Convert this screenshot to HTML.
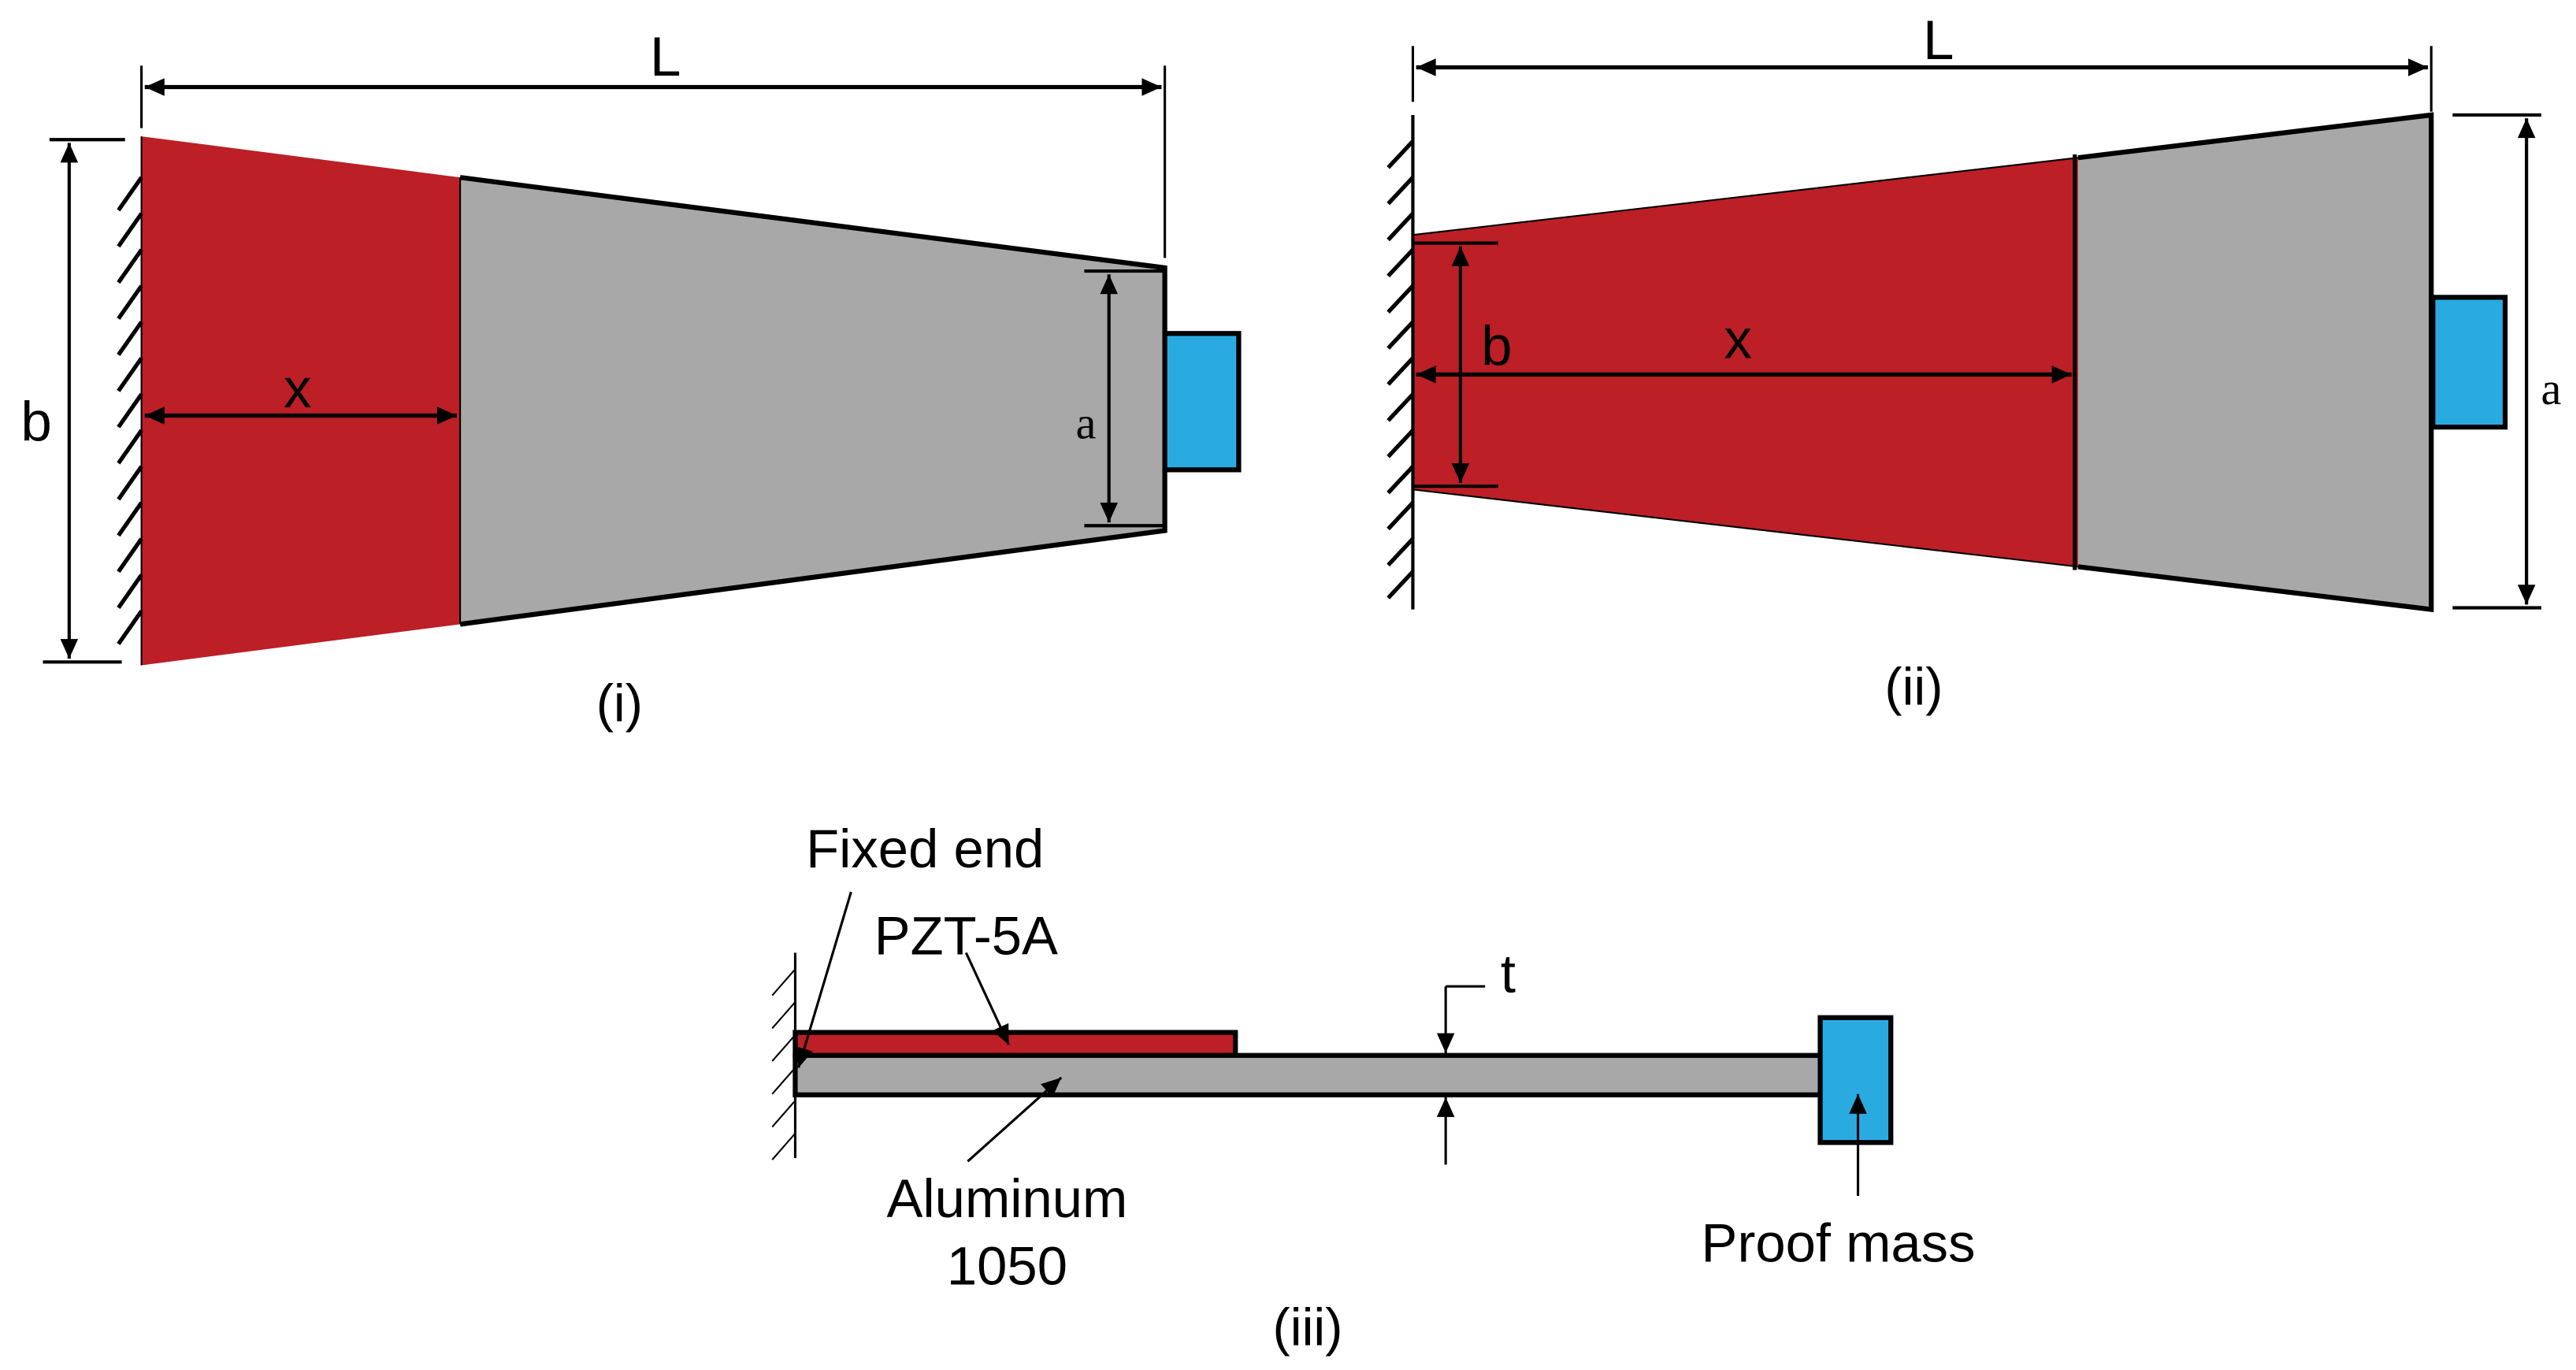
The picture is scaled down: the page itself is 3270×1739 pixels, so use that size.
<!DOCTYPE html>
<html><head><meta charset="utf-8"><style>html,body{margin:0;padding:0;background:#fff}svg{display:block}</style></head>
<body>
<svg width="3270" height="1739" viewBox="0 0 1568 834" xmlns="http://www.w3.org/2000/svg" font-family="Liberation Sans, Arial, sans-serif">
<defs>
<marker id="ar" viewBox="0 0 10 10" refX="10" refY="5" markerWidth="15" markerHeight="12" markerUnits="userSpaceOnUse" orient="auto-start-reverse"><path d="M0,0.5 L10,5 L0,9.5 z" fill="#000"/></marker>
</defs>
<rect width="1568" height="834" fill="#fff"/>

<!-- Panel (i) -->
<polygon points="86,83 280,108 280,380 86,405" fill="#bc1f26"/>
<polygon points="280,108 709,163 709,323 280,380" fill="#a8a8a8"/>
<polyline points="280,108 709,163 709,323 280,380" fill="none" stroke="#000" stroke-width="3"/>
<line x1="280" y1="108" x2="280" y2="380" stroke="#000" stroke-width="1"/>
<rect x="709" y="203" width="45" height="83" fill="#29abe2" stroke="#000" stroke-width="3"/>
<line x1="86" y1="40" x2="86" y2="78" stroke="#000" stroke-width="1.5"/>
<line x1="709" y1="40" x2="709" y2="157" stroke="#000" stroke-width="1.5"/>
<line x1="88" y1="53" x2="707" y2="53" stroke="#000" stroke-width="2.5" marker-start="url(#ar)" marker-end="url(#ar)"/>
<text x="405" y="46" font-size="34" text-anchor="middle">L</text>
<line x1="660" y1="165" x2="709" y2="165" stroke="#000" stroke-width="2"/>
<line x1="660" y1="320" x2="709" y2="320" stroke="#000" stroke-width="2"/>
<line x1="675" y1="167" x2="675" y2="318" stroke="#000" stroke-width="2" marker-start="url(#ar)" marker-end="url(#ar)"/>
<text x="661" y="267" font-size="28" text-anchor="middle" font-family="Liberation Serif, serif">a</text>
<line x1="30" y1="85" x2="76" y2="85" stroke="#000" stroke-width="2"/>
<line x1="26" y1="403" x2="74" y2="403" stroke="#000" stroke-width="2"/>
<line x1="42" y1="87" x2="42" y2="401" stroke="#000" stroke-width="2" marker-start="url(#ar)" marker-end="url(#ar)"/>
<text x="22" y="268" font-size="34" text-anchor="middle">b</text>
<line x1="88" y1="253" x2="278" y2="253" stroke="#000" stroke-width="2.5" marker-start="url(#ar)" marker-end="url(#ar)"/>
<text x="181" y="248" font-size="34" text-anchor="middle">x</text>
<g stroke="#000" stroke-width="2.5">
<line x1="86" y1="83" x2="86" y2="405" stroke-width="1"/>
<line x1="86" y1="108" x2="72" y2="128"/><line x1="86" y1="130" x2="72" y2="150"/><line x1="86" y1="152" x2="72" y2="172"/><line x1="86" y1="174" x2="72" y2="194"/><line x1="86" y1="196" x2="72" y2="216"/><line x1="86" y1="218" x2="72" y2="238"/><line x1="86" y1="240" x2="72" y2="260"/><line x1="86" y1="262" x2="72" y2="282"/><line x1="86" y1="284" x2="72" y2="304"/><line x1="86" y1="306" x2="72" y2="326"/><line x1="86" y1="328" x2="72" y2="348"/><line x1="86" y1="350" x2="72" y2="370"/><line x1="86" y1="372" x2="72" y2="392"/>
</g>
<text x="377" y="439" font-size="32" text-anchor="middle">(i)</text>

<!-- Panel (ii) -->
<polygon points="860,143 1265,96 1265,345 860,298" fill="#bc1f26"/>
<polygon points="1265,96 1480,70 1480,371 1265,345" fill="#a8a8a8"/>
<polyline points="1265,96 1480,70 1480,371 1265,345" fill="none" stroke="#000" stroke-width="3"/>
<line x1="1263" y1="94" x2="1263" y2="347" stroke="#000" stroke-width="2.5"/>
<line x1="860" y1="143" x2="1265" y2="96" stroke="#000" stroke-width="1"/>
<line x1="860" y1="298" x2="1265" y2="345" stroke="#000" stroke-width="1"/>
<rect x="1481" y="181" width="44" height="79" fill="#29abe2" stroke="#000" stroke-width="3"/>
<line x1="860" y1="28" x2="860" y2="62" stroke="#000" stroke-width="1.5"/>
<line x1="1480" y1="28" x2="1480" y2="68" stroke="#000" stroke-width="1.5"/>
<line x1="862" y1="41" x2="1478" y2="41" stroke="#000" stroke-width="2.5" marker-start="url(#ar)" marker-end="url(#ar)"/>
<text x="1180" y="36" font-size="34" text-anchor="middle">L</text>
<line x1="1493" y1="70" x2="1547" y2="70" stroke="#000" stroke-width="2"/>
<line x1="1493" y1="370" x2="1547" y2="370" stroke="#000" stroke-width="2"/>
<line x1="1538" y1="72" x2="1538" y2="368" stroke="#000" stroke-width="2" marker-start="url(#ar)" marker-end="url(#ar)"/>
<text x="1553" y="246" font-size="28" text-anchor="middle" font-family="Liberation Serif, serif">a</text>
<line x1="860" y1="148" x2="912" y2="148" stroke="#000" stroke-width="2"/>
<line x1="860" y1="296" x2="912" y2="296" stroke="#000" stroke-width="2"/>
<line x1="889" y1="150" x2="889" y2="294" stroke="#000" stroke-width="2" marker-start="url(#ar)" marker-end="url(#ar)"/>
<text x="911" y="222" font-size="34" text-anchor="middle">b</text>
<line x1="862" y1="228" x2="1261" y2="228" stroke="#000" stroke-width="2.5" marker-start="url(#ar)" marker-end="url(#ar)"/>
<text x="1058" y="218" font-size="34" text-anchor="middle">x</text>
<g stroke="#000" stroke-width="2.5">
<line x1="860" y1="70" x2="860" y2="371" stroke-width="2"/>
<line x1="860" y1="86" x2="845" y2="102"/><line x1="860" y1="108" x2="845" y2="124"/><line x1="860" y1="130" x2="845" y2="146"/><line x1="860" y1="152" x2="845" y2="168"/><line x1="860" y1="174" x2="845" y2="190"/><line x1="860" y1="196" x2="845" y2="212"/><line x1="860" y1="218" x2="845" y2="234"/><line x1="860" y1="240" x2="845" y2="256"/><line x1="860" y1="262" x2="845" y2="278"/><line x1="860" y1="284" x2="845" y2="300"/><line x1="860" y1="306" x2="845" y2="322"/><line x1="860" y1="328" x2="845" y2="344"/><line x1="860" y1="348" x2="845" y2="364"/>
</g>
<text x="1165" y="429" font-size="32" text-anchor="middle">(ii)</text>

<!-- Panel (iii) -->
<rect x="484" y="628.5" width="268" height="14" fill="#bc1f26" stroke="#000" stroke-width="3"/>
<rect x="484" y="642.5" width="627" height="24" fill="#a8a8a8" stroke="#000" stroke-width="3"/>
<rect x="1108" y="619.5" width="43" height="76" fill="#29abe2" stroke="#000" stroke-width="3"/>
<line x1="484" y1="580" x2="484" y2="705" stroke="#000" stroke-width="1.5"/>
<g stroke="#000" stroke-width="1">
<line x1="484" y1="590" x2="470" y2="606"/><line x1="484" y1="610" x2="470" y2="626"/><line x1="484" y1="630" x2="470" y2="646"/><line x1="484" y1="650" x2="470" y2="666"/><line x1="484" y1="670" x2="470" y2="686"/><line x1="484" y1="690" x2="470" y2="706"/>
</g>
<line x1="880" y1="600.5" x2="904" y2="600.5" stroke="#000" stroke-width="1.5"/>
<line x1="880" y1="600.5" x2="880" y2="641" stroke="#000" stroke-width="1.5" marker-end="url(#ar)"/>
<line x1="880" y1="709" x2="880" y2="668" stroke="#000" stroke-width="1.5" marker-end="url(#ar)"/>
<text x="918" y="604" font-size="33" text-anchor="middle">t</text>
<text x="563" y="528" font-size="33" text-anchor="middle">Fixed end</text>
<line x1="518" y1="543" x2="486" y2="650" stroke="#000" stroke-width="1.5" marker-end="url(#ar)"/>
<text x="588" y="581" font-size="33" text-anchor="middle">PZT-5A</text>
<line x1="588" y1="580" x2="614" y2="636" stroke="#000" stroke-width="1.5" marker-end="url(#ar)"/>
<text x="613" y="741" font-size="33" text-anchor="middle">Aluminum</text>
<text x="613" y="782" font-size="33" text-anchor="middle">1050</text>
<line x1="589" y1="707" x2="646" y2="656" stroke="#000" stroke-width="1.5" marker-end="url(#ar)"/>
<text x="1119" y="768" font-size="33" text-anchor="middle">Proof mass</text>
<line x1="1131" y1="728" x2="1131" y2="666" stroke="#000" stroke-width="1.5" marker-end="url(#ar)"/>
<text x="796" y="819" font-size="32" text-anchor="middle">(iii)</text>
</svg>
</body></html>
